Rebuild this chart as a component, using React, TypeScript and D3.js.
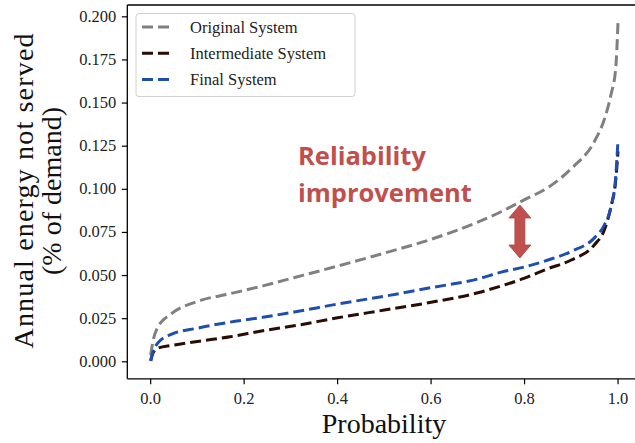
import React from "react";
import * as d3 from "d3";

const probs = [0, 0.005, 0.015, 0.045, 0.1, 0.17, 0.24, 0.31, 0.4, 0.5, 0.6, 0.7, 0.75, 0.8, 0.85, 0.9, 0.95, 0.97, 0.985, 0.995, 1.0];
const originalSys = [0.004, 0.012, 0.020, 0.028, 0.035, 0.0395, 0.044, 0.049, 0.0555, 0.063, 0.071, 0.081, 0.087, 0.094, 0.101, 0.112, 0.128, 0.140, 0.155, 0.170, 0.197];
const intermediateSys = [0.0005, 0.005, 0.0078, 0.0095, 0.0118, 0.0145, 0.018, 0.021, 0.0255, 0.030, 0.0345, 0.040, 0.044, 0.0485, 0.054, 0.059, 0.068, 0.076, 0.090, 0.105, 0.122];
const finalSys = [0.0005, 0.006, 0.0108, 0.016, 0.0195, 0.023, 0.0258, 0.029, 0.0335, 0.038, 0.043, 0.048, 0.052, 0.055, 0.059, 0.064, 0.072, 0.079, 0.090, 0.107, 0.129];

const seriesNames = ["Original System", "Intermediate System", "Final System"];
const seriesColors = ["#808080", "#2a0c04", "#1f4fae"];
const seriesValues = [originalSys, intermediateSys, finalSys];

const xTicks = [0, 0.2, 0.4, 0.6, 0.8, 1.0];
const yTicks = [0, 0.025, 0.05, 0.075, 0.1, 0.125, 0.15, 0.175, 0.2];

const W = 635;
const H = 443;
const left = 127.3;
const right = 641.4;
const top = 5;
const bottom = 378.8;
const serif = "'Liberation Serif', 'DejaVu Serif', serif";
const sans = "'Open Sans', 'Noto Sans', sans-serif";
const red = "#C0504D";

export default function App() {
  const x = d3.scaleLinear().domain([-0.05, 1.05]).range([left, right]);
  const y = d3.scaleLinear().domain([-0.00985, 0.20685]).range([bottom, top]);
  const line = d3
    .line<[number, number]>()
    .x((d) => x(d[0]))
    .y((d) => y(d[1]))
    .curve(d3.curveMonotoneX);

  const arrowX = x(0.79);
  const arrowTop = 205;
  const arrowBot = 258;

  return (
    <svg width={W} height={H} style={{ position: "absolute", left: 0, top: 0, background: "#fff" }}>
      <rect x={0} y={0} width={W} height={H} fill="#fff" />
      <defs>
        <clipPath id="plotclip">
          <rect x={left} y={top} width={right - left} height={bottom - top} />
        </clipPath>
      </defs>
      <g clipPath="url(#plotclip)">
        {seriesValues.map((vals, i) => (
          <path
            key={seriesNames[i]}
            d={line(probs.map((p, j) => [p, vals[j]]) as [number, number][]) || ""}
            fill="none"
            stroke={seriesColors[i]}
            strokeWidth={3}
            strokeDasharray="11,5"
          />
        ))}
      </g>
      <line x1={left} x2={left} y1={top} y2={bottom} stroke="#000" strokeWidth={1.3} />
      <line x1={left} x2={right} y1={bottom} y2={bottom} stroke="#000" strokeWidth={1.3} />
      <line x1={left} x2={right} y1={top} y2={top} stroke="#000" strokeWidth={1.3} />
      {yTicks.map((t) => (
        <g key={"y" + t}>
          <line x1={left - 5.5} x2={left} y1={y(t)} y2={y(t)} stroke="#000" strokeWidth={1.2} />
          <text x={left - 11} y={y(t) + 5} textAnchor="end" fontFamily={serif} fontSize={16.5} fill="#222">
            {d3.format(".3f")(t)}
          </text>
        </g>
      ))}
      {xTicks.map((t) => (
        <g key={"x" + t}>
          <line x1={x(t)} x2={x(t)} y1={bottom} y2={bottom + 5.5} stroke="#000" strokeWidth={1.2} />
          <text x={x(t)} y={404} textAnchor="middle" fontFamily={serif} fontSize={16.5} fill="#222">
            {d3.format(".1f")(t)}
          </text>
        </g>
      ))}
      <text x={384} y={433} textAnchor="middle" fontFamily={serif} fontSize={28} fill="#111">
        Probability
      </text>
      <g transform="translate(33,191) rotate(-90)">
        <text x={0} y={0} textAnchor="middle" fontFamily={serif} fontSize={28} fill="#111" textLength={315}>
          Annual energy not served
        </text>
        <text x={0} y={28} textAnchor="middle" fontFamily={serif} fontSize={28} fill="#111">
          (% of demand)
        </text>
      </g>
      <rect x={136} y={13.5} width={219} height={83} rx={3} fill="#fff" stroke="#d0d0d0" strokeWidth={1} />
      {seriesNames.map((n, i) => (
        <g key={"leg" + n}>
          <line x1={142} x2={174} y1={27 + i * 26.3} y2={27 + i * 26.3} stroke={seriesColors[i]} strokeWidth={3} strokeDasharray="11,5" />
          <text x={190} y={32.5 + i * 26.3} fontFamily={serif} fontSize={16.5} fill="#222">
            {n}
          </text>
        </g>
      ))}
      <text x={298} y={165} fontFamily={sans} fontWeight="bold" fontSize={25.5} fill={red}>
        Reliability
      </text>
      <text x={298} y={202} fontFamily={sans} fontWeight="bold" fontSize={25.5} fill={red}>
        improvement
      </text>
      <path
        d={`M${arrowX},${arrowTop} L${arrowX + 11},${arrowTop + 13} L${arrowX + 5},${arrowTop + 13} L${arrowX + 5},${arrowBot - 13} L${arrowX + 11},${arrowBot - 13} L${arrowX},${arrowBot} L${arrowX - 11},${arrowBot - 13} L${arrowX - 5},${arrowBot - 13} L${arrowX - 5},${arrowTop + 13} L${arrowX - 11},${arrowTop + 13} Z`}
        fill={red}
        stroke="#a94442"
        strokeWidth={0.8}
      />
    </svg>
  );
}
